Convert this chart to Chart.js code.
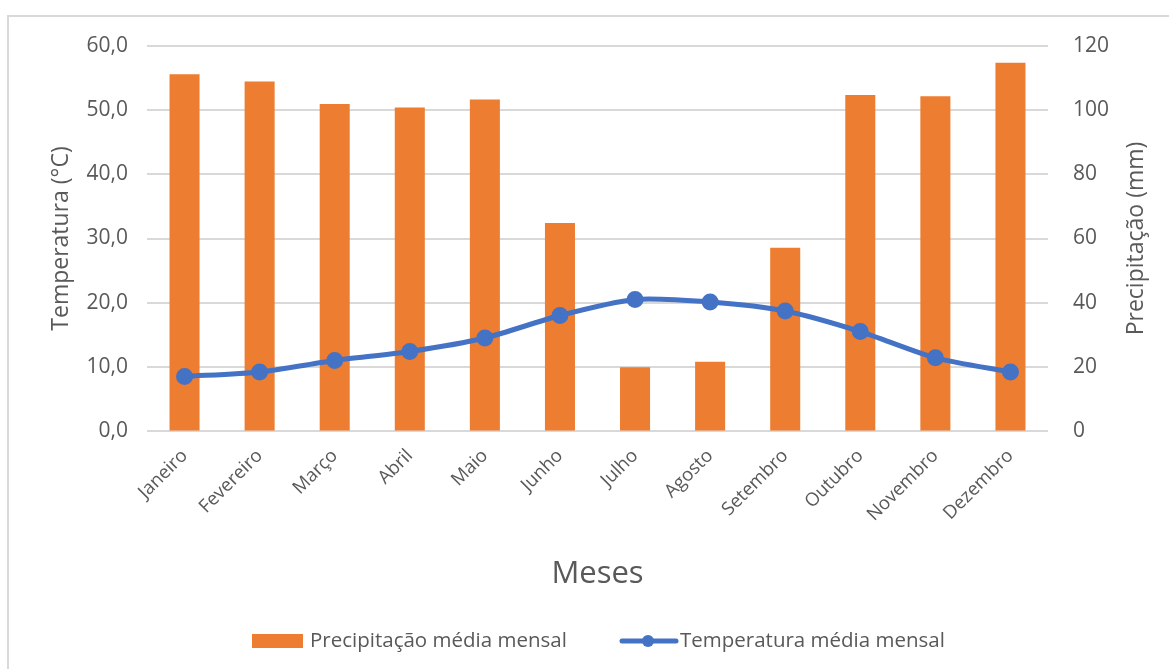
<!DOCTYPE html>
<html lang="pt">
<head>
<meta charset="utf-8">
<title>Precipitação e temperatura média mensal</title>
<script src="https://cdn.jsdelivr.net/npm/chart.js@4/dist/chart.umd.min.js"></script>
<style>
  html,body{margin:0;padding:0;background:#fff;}
  #frame{position:absolute;left:7px;top:15px;width:1170px;height:660px;border:2px solid #d9d9d9;box-sizing:border-box;}
  #wrap{position:absolute;left:0;top:0;width:1169px;height:669px;}
</style>
</head>
<body>
<div id="frame"></div>
<div id="wrap"><canvas id="chart"></canvas></div>
<script>
// data
const meses = ['Janeiro','Fevereiro','Março','Abril','Maio','Junho','Julho','Agosto','Setembro','Outubro','Novembro','Dezembro'];
const precipitacao = [111.2, 108.9, 101.9, 100.8, 103.3, 64.8, 19.9, 21.6, 57.1, 104.7, 104.3, 114.8]; // mm
const temperatura = [8.5, 9.2, 11.0, 12.4, 14.5, 18.0, 20.5, 20.1, 18.7, 15.5, 11.4, 9.2]; // °C
const ticksTemp = [0, 10, 20, 30, 40, 50, 60];
const ticksPrec = [0, 20, 40, 60, 80, 100, 120];

const FONT = '"Open Sans", "Noto Sans", sans-serif';
const GREY = '#595959';
const ORANGE = '#ed7d31';
const BLUE = '#4472c4';

// legend drawn by hand (box for the bars, line + dot for the series)
// plus the right axis title, which Excel rotates the same way as the left one
const extrasPlugin = {
  id: 'excelExtras',
  afterDraw(chart){
    const c = chart.ctx;
    const y = 641;
    const ds = chart.data.datasets;
    c.save();
    c.font = '20.5px ' + FONT;
    c.textBaseline = 'middle';
    // bars
    c.fillStyle = ds[0].backgroundColor;
    c.fillRect(252, y - 7, 51, 14);
    c.fillStyle = GREY;
    c.fillText(ds[0].label, 310, y);
    // line
    c.strokeStyle = ds[1].borderColor;
    c.lineWidth = 5;
    c.lineCap = 'round';
    c.beginPath(); c.moveTo(622, y); c.lineTo(676, y); c.stroke();
    c.fillStyle = ds[1].borderColor;
    c.beginPath(); c.arc(648, y, 6, 0, Math.PI*2); c.fill();
    c.fillStyle = GREY;
    c.fillText(ds[1].label, 680, y);

    // right axis title
    const a = chart.chartArea;
    c.translate(1136, (a.top + a.bottom) / 2);
    c.rotate(-Math.PI / 2);
    c.font = '23px ' + FONT;
    c.textAlign = 'center';
    c.fillText('Precipitação (mm)', 0, 0);
    c.restore();
  }
};

const ctx = document.getElementById('chart').getContext('2d');
new Chart(ctx, {
  data: {
    labels: meses,
    datasets: [
      {
        type: 'bar',
        label: 'Precipitação média mensal',
        data: precipitacao,
        yAxisID: 'yP',
        backgroundColor: ORANGE,
        categoryPercentage: 1,
        barPercentage: 0.4,
        order: 2
      },
      {
        type: 'line',
        label: 'Temperatura média mensal',
        data: temperatura,
        yAxisID: 'yT',
        borderColor: BLUE,
        backgroundColor: BLUE,
        borderWidth: 5,
        pointRadius: 6,
        pointHoverRadius: 6,
        tension: 0.25,
        order: 1
      }
    ]
  },
  options: {
    responsive: true,
    maintainAspectRatio: false,
    animation: false,
    layout: { padding: { left: 0, right: 0, top: 46, bottom: 70 } },
    plugins: {
      legend: { display: false },
      tooltip: { enabled: false }
    },
    scales: {
      x: {
        grid: { display: false },
        border: { display: false },
        ticks: {
          color: GREY,
          font: { family: FONT, size: 18.5 },
          minRotation: 45,
          maxRotation: 45,
          padding: 6
        },
        title: {
          display: true,
          text: 'Meses',
          color: GREY,
          font: { family: FONT, size: 31 },
          padding: { top: 0, bottom: 6 }
        },
        afterFit: s => { s.height = 168; }
      },
      yT: {
        position: 'left',
        min: 0, max: 60,
        afterBuildTicks: s => { s.ticks = ticksTemp.map(v => ({ value: v })); },
        grid: { color: '#d9d9d9', lineWidth: 2, drawTicks: false },
        border: { display: false },
        ticks: {
          color: GREY,
          font: { family: FONT, size: 21 },
          padding: 19,
          callback: v => v.toFixed(1).replace('.', ',')
        },
        title: {
          display: true,
          text: 'Temperatura (°C)',
          color: GREY,
          font: { family: FONT, size: 23 },
          padding: { top: 48, bottom: 0 }
        },
        afterFit: s => { s.width = 147; }
      },
      yP: {
        position: 'right',
        min: 0, max: 120,
        afterBuildTicks: s => { s.ticks = ticksPrec.map(v => ({ value: v })); },
        grid: { drawOnChartArea: false, drawTicks: false },
        border: { display: false },
        ticks: {
          color: GREY,
          font: { family: FONT, size: 21 },
          padding: 25
        },
        afterFit: s => { s.width = 121; }
      }
    }
  },
  plugins: [extrasPlugin]
});
</script>
</body>
</html>
